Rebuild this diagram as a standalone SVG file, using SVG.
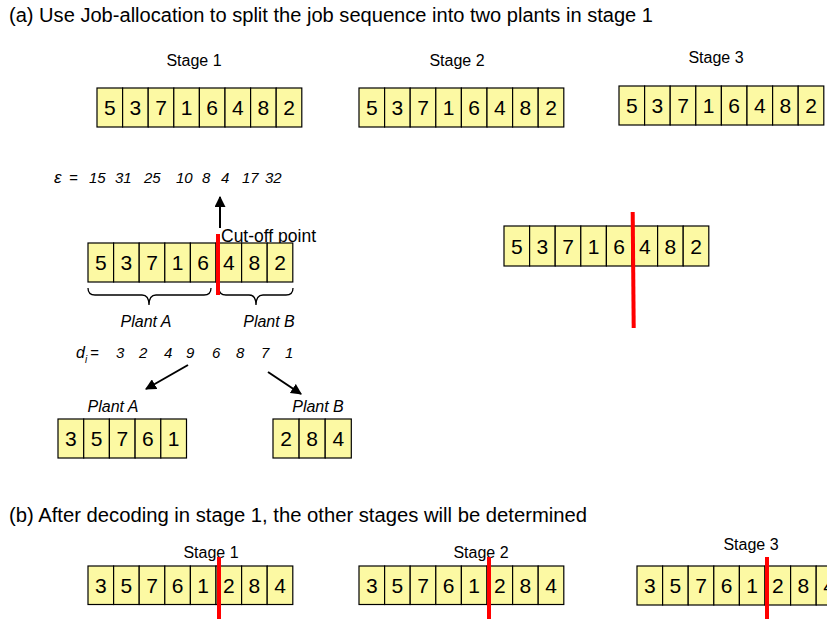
<svg xmlns="http://www.w3.org/2000/svg" width="827" height="619" viewBox="0 0 827 619">
<style>
  text { font-family: "Liberation Sans", Arial, sans-serif; fill: #000; }
  .title { font-size: 20px; }
  .stage { font-size: 16px; text-anchor: middle; }
  .cell { fill: #FCF9A3; stroke: #000; stroke-width: 1.2; }
  .num { font-size: 21px; text-anchor: middle; }
  .it { font-size: 15px; font-style: italic; }
  .plant { font-size: 16px; font-style: italic; text-anchor: middle; }
  .cut { stroke: #FF0000; stroke-width: 4; fill: none; }
  .arrow { stroke: #000; stroke-width: 2; fill: none; marker-end: url(#ah); }
  .brace { stroke: #000; stroke-width: 1.3; fill: none; }
</style>
<defs>
  <marker id="ah" viewBox="0 0 10 10" refX="9" refY="5" markerWidth="5.5" markerHeight="5.5" orient="auto" markerUnits="strokeWidth">
    <path d="M0,0 L10,5 L0,10 z" fill="#000"/>
  </marker>
</defs>

<text class="title" x="9" y="22" textLength="644" lengthAdjust="spacingAndGlyphs">(a) Use Job-allocation to split the job sequence into two plants in stage 1</text>
<text class="title" x="9" y="522" textLength="578" lengthAdjust="spacingAndGlyphs">(b) After decoding in stage 1, the other stages will be determined</text>

<g id="stage1-top">
  <text class="stage" x="194" y="66">Stage 1</text>
  <g transform="translate(97,88)">
    <rect class="cell" x="0" y="0" width="25.6" height="39"/><rect class="cell" x="25.6" y="0" width="25.6" height="39"/><rect class="cell" x="51.2" y="0" width="25.6" height="39"/><rect class="cell" x="76.8" y="0" width="25.6" height="39"/><rect class="cell" x="102.4" y="0" width="25.6" height="39"/><rect class="cell" x="128" y="0" width="25.6" height="39"/><rect class="cell" x="153.6" y="0" width="25.6" height="39"/><rect class="cell" x="179.2" y="0" width="25.6" height="39"/>
    <text class="num" x="12.8" y="27">5</text><text class="num" x="38.4" y="27">3</text><text class="num" x="64" y="27">7</text><text class="num" x="89.6" y="27">1</text><text class="num" x="115.2" y="27">6</text><text class="num" x="140.8" y="27">4</text><text class="num" x="166.4" y="27">8</text><text class="num" x="192" y="27">2</text>
  </g>
</g>

<g id="stage2-top">
  <text class="stage" x="457" y="66">Stage 2</text>
  <g transform="translate(359,88)">
    <rect class="cell" x="0" y="0" width="25.6" height="39"/><rect class="cell" x="25.6" y="0" width="25.6" height="39"/><rect class="cell" x="51.2" y="0" width="25.6" height="39"/><rect class="cell" x="76.8" y="0" width="25.6" height="39"/><rect class="cell" x="102.4" y="0" width="25.6" height="39"/><rect class="cell" x="128" y="0" width="25.6" height="39"/><rect class="cell" x="153.6" y="0" width="25.6" height="39"/><rect class="cell" x="179.2" y="0" width="25.6" height="39"/>
    <text class="num" x="12.8" y="27">5</text><text class="num" x="38.4" y="27">3</text><text class="num" x="64" y="27">7</text><text class="num" x="89.6" y="27">1</text><text class="num" x="115.2" y="27">6</text><text class="num" x="140.8" y="27">4</text><text class="num" x="166.4" y="27">8</text><text class="num" x="192" y="27">2</text>
  </g>
</g>

<g id="stage3-top">
  <text class="stage" x="716" y="63">Stage 3</text>
  <g transform="translate(619,86)">
    <rect class="cell" x="0" y="0" width="25.6" height="39"/><rect class="cell" x="25.6" y="0" width="25.6" height="39"/><rect class="cell" x="51.2" y="0" width="25.6" height="39"/><rect class="cell" x="76.8" y="0" width="25.6" height="39"/><rect class="cell" x="102.4" y="0" width="25.6" height="39"/><rect class="cell" x="128" y="0" width="25.6" height="39"/><rect class="cell" x="153.6" y="0" width="25.6" height="39"/><rect class="cell" x="179.2" y="0" width="25.6" height="39"/>
    <text class="num" x="12.8" y="27">5</text><text class="num" x="38.4" y="27">3</text><text class="num" x="64" y="27">7</text><text class="num" x="89.6" y="27">1</text><text class="num" x="115.2" y="27">6</text><text class="num" x="140.8" y="27">4</text><text class="num" x="166.4" y="27">8</text><text class="num" x="192" y="27">2</text>
  </g>
</g>

<g id="epsilon">
  <text class="it" x="54" y="183" style="font-size:17px">ε</text>
  <text class="it" x="69" y="183">=</text>
  <text class="it" x="89" y="183">15</text>
  <text class="it" x="115" y="183">31</text>
  <text class="it" x="144" y="183">25</text>
  <text class="it" x="176" y="183">10</text>
  <text class="it" x="202" y="183">8</text>
  <text class="it" x="221" y="183">4</text>
  <text class="it" x="242" y="183">17</text>
  <text class="it" x="265" y="183">32</text>
</g>

<g id="cut-label">
  <text x="221" y="242" style="font-size:17.5px">Cut-off point</text>
</g>

<g id="sequence-mid">
  <g transform="translate(88,243)">
    <rect class="cell" x="0" y="0" width="25.6" height="39"/><rect class="cell" x="25.6" y="0" width="25.6" height="39"/><rect class="cell" x="51.2" y="0" width="25.6" height="39"/><rect class="cell" x="76.8" y="0" width="25.6" height="39"/><rect class="cell" x="102.4" y="0" width="25.6" height="39"/><rect class="cell" x="128" y="0" width="25.6" height="39"/><rect class="cell" x="153.6" y="0" width="25.6" height="39"/><rect class="cell" x="179.2" y="0" width="25.6" height="39"/>
    <text class="num" x="12.8" y="27">5</text><text class="num" x="38.4" y="27">3</text><text class="num" x="64" y="27">7</text><text class="num" x="89.6" y="27">1</text><text class="num" x="115.2" y="27">6</text><text class="num" x="140.8" y="27">4</text><text class="num" x="166.4" y="27">8</text><text class="num" x="192" y="27">2</text>
  </g>
</g>

<g id="braces">
  <path class="brace" d="M88,288 Q88,295 95,295 H142 Q149,295 149,305 Q149,295 156,295 H204 Q211,295 211,288"/>
  <path class="brace" d="M219,288 Q219,295 226,295 H249 Q256,295 256,305 Q256,295 263,295 H286 Q293,295 293,288"/>
  <text class="plant" x="146" y="327">Plant A</text>
  <text class="plant" x="269" y="327">Plant B</text>
</g>

<g id="di">
  <text class="it" x="76" y="358" style="font-size:16px">d</text>
  <text class="it" x="85" y="363" style="font-size:10px">i</text>
  <text class="it" x="90" y="358">=</text>
  <text class="it" x="116" y="358">3</text>
  <text class="it" x="139" y="358">2</text>
  <text class="it" x="164" y="358">4</text>
  <text class="it" x="186" y="358">9</text>
  <text class="it" x="212" y="358">6</text>
  <text class="it" x="236" y="358">8</text>
  <text class="it" x="261" y="358">7</text>
  <text class="it" x="285" y="358">1</text>
</g>

<g id="plantA">
  <text class="plant" x="113" y="412">Plant A</text>
  <g transform="translate(58,419)">
    <rect class="cell" x="0" y="0" width="25.7" height="39"/><rect class="cell" x="25.7" y="0" width="25.7" height="39"/><rect class="cell" x="51.4" y="0" width="25.7" height="39"/><rect class="cell" x="77.1" y="0" width="25.7" height="39"/><rect class="cell" x="102.8" y="0" width="25.7" height="39"/>
    <text class="num" x="12.85" y="27">3</text><text class="num" x="38.55" y="27">5</text><text class="num" x="64.25" y="27">7</text><text class="num" x="89.95" y="27">6</text><text class="num" x="115.65" y="27">1</text>
  </g>
</g>

<g id="plantB">
  <text class="plant" x="318" y="412">Plant B</text>
  <g transform="translate(273,419)">
    <rect class="cell" x="0" y="0" width="26.1" height="39"/><rect class="cell" x="26.1" y="0" width="26.1" height="39"/><rect class="cell" x="52.2" y="0" width="26.1" height="39"/>
    <text class="num" x="13.05" y="27">2</text><text class="num" x="39.15" y="27">8</text><text class="num" x="65.25" y="27">4</text>
  </g>
</g>

<g id="sequence-right">
  <g transform="translate(504,226)">
    <rect class="cell" x="0" y="0" width="25.6" height="40"/><rect class="cell" x="25.6" y="0" width="25.6" height="40"/><rect class="cell" x="51.2" y="0" width="25.6" height="40"/><rect class="cell" x="76.8" y="0" width="25.6" height="40"/><rect class="cell" x="102.4" y="0" width="25.6" height="40"/><rect class="cell" x="128" y="0" width="25.6" height="40"/><rect class="cell" x="153.6" y="0" width="25.6" height="40"/><rect class="cell" x="179.2" y="0" width="25.6" height="40"/>
    <text class="num" x="12.8" y="28">5</text><text class="num" x="38.4" y="28">3</text><text class="num" x="64" y="28">7</text><text class="num" x="89.6" y="28">1</text><text class="num" x="115.2" y="28">6</text><text class="num" x="140.8" y="28">4</text><text class="num" x="166.4" y="28">8</text><text class="num" x="192" y="28">2</text>
  </g>
</g>

<g id="stage1-bottom">
  <text class="stage" x="211" y="558">Stage 1</text>
  <g transform="translate(88,566)">
    <rect class="cell" x="0" y="0" width="25.6" height="38.5"/><rect class="cell" x="25.6" y="0" width="25.6" height="38.5"/><rect class="cell" x="51.2" y="0" width="25.6" height="38.5"/><rect class="cell" x="76.8" y="0" width="25.6" height="38.5"/><rect class="cell" x="102.4" y="0" width="25.6" height="38.5"/><rect class="cell" x="128" y="0" width="25.6" height="38.5"/><rect class="cell" x="153.6" y="0" width="25.6" height="38.5"/><rect class="cell" x="179.2" y="0" width="25.6" height="38.5"/>
    <text class="num" x="12.8" y="27">3</text><text class="num" x="38.4" y="27">5</text><text class="num" x="64" y="27">7</text><text class="num" x="89.6" y="27">6</text><text class="num" x="115.2" y="27">1</text><text class="num" x="140.8" y="27">2</text><text class="num" x="166.4" y="27">8</text><text class="num" x="192" y="27">4</text>
  </g>
</g>

<g id="stage2-bottom">
  <text class="stage" x="481" y="558">Stage 2</text>
  <g transform="translate(359,566)">
    <rect class="cell" x="0" y="0" width="25.6" height="38.5"/><rect class="cell" x="25.6" y="0" width="25.6" height="38.5"/><rect class="cell" x="51.2" y="0" width="25.6" height="38.5"/><rect class="cell" x="76.8" y="0" width="25.6" height="38.5"/><rect class="cell" x="102.4" y="0" width="25.6" height="38.5"/><rect class="cell" x="128" y="0" width="25.6" height="38.5"/><rect class="cell" x="153.6" y="0" width="25.6" height="38.5"/><rect class="cell" x="179.2" y="0" width="25.6" height="38.5"/>
    <text class="num" x="12.8" y="27">3</text><text class="num" x="38.4" y="27">5</text><text class="num" x="64" y="27">7</text><text class="num" x="89.6" y="27">6</text><text class="num" x="115.2" y="27">1</text><text class="num" x="140.8" y="27">2</text><text class="num" x="166.4" y="27">8</text><text class="num" x="192" y="27">4</text>
  </g>
</g>

<g id="stage3-bottom">
  <text class="stage" x="751" y="550">Stage 3</text>
  <g transform="translate(637,566)">
    <rect class="cell" x="0" y="0" width="25.6" height="39"/><rect class="cell" x="25.6" y="0" width="25.6" height="39"/><rect class="cell" x="51.2" y="0" width="25.6" height="39"/><rect class="cell" x="76.8" y="0" width="25.6" height="39"/><rect class="cell" x="102.4" y="0" width="25.6" height="39"/><rect class="cell" x="128" y="0" width="25.6" height="39"/><rect class="cell" x="153.6" y="0" width="25.6" height="39"/><rect class="cell" x="179.2" y="0" width="25.6" height="39"/>
    <text class="num" x="12.8" y="27">3</text><text class="num" x="38.4" y="27">5</text><text class="num" x="64" y="27">7</text><text class="num" x="89.6" y="27">6</text><text class="num" x="115.2" y="27">1</text><text class="num" x="140.8" y="27">2</text><text class="num" x="166.4" y="27">8</text><text class="num" x="192" y="27">4</text>
  </g>
</g>

<g id="connectors">
  <line class="arrow" x1="220" y1="228" x2="220" y2="197"/>
  <line class="arrow" x1="188" y1="365" x2="146" y2="389"/>
  <line class="arrow" x1="268" y1="372" x2="301" y2="394"/>
</g>

<g id="cut-lines">
  <line class="cut" x1="218" y1="234" x2="218" y2="295"/>
  <line class="cut" x1="632.7" y1="212" x2="633.7" y2="328"/>
  <line class="cut" x1="219" y1="557" x2="219" y2="619"/>
  <line class="cut" x1="489" y1="557" x2="489" y2="619"/>
  <line class="cut" x1="767" y1="557" x2="767" y2="619"/>
</g>
</svg>
